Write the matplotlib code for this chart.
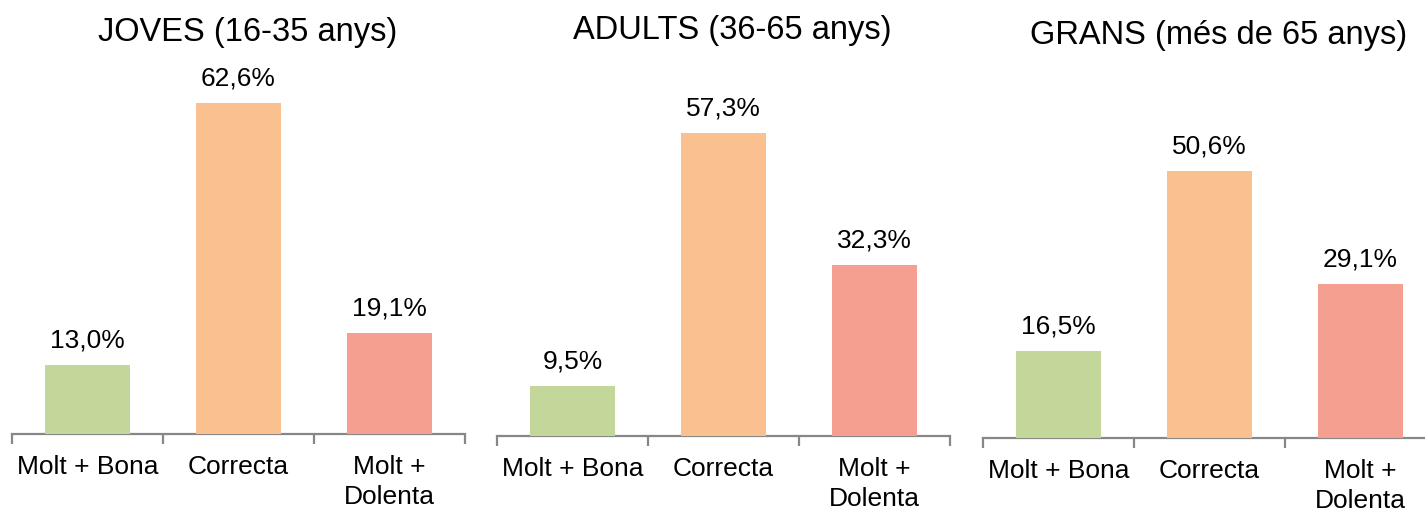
import matplotlib.pyplot as plt

plt.rcParams['font.family'] = ['Liberation Sans', 'DejaVu Sans']

# ── Data ───────────────────────────────────────────────────────────────────────
categories = ['Molt + Bona', 'Correcta', 'Molt +\nDolenta']
titles = ['JOVES (16-35 anys)', 'ADULTS (36-65 anys)', 'GRANS (més de 65 anys)']
joves = [13.0, 62.6, 19.1]
adults = [9.5, 57.3, 32.3]
grans = [16.5, 50.6, 29.1]
bar_colors = ['#C4D79B', '#FAC090', '#F59F91']

W, H = 1425, 509
fig = plt.figure(figsize=(W / 100, H / 100), dpi=100)

# (left px, baseline px) for each panel, as in the original slide
panels = [(12, 434), (497, 436), (983, 438)]
title_y = [32, 30, 35]
panel_w = 453
ymax = 70
px_per_unit = 5.28

for (left, base), ty, title, vals in zip(panels, title_y, titles, [joves, adults, grans]):
    h = ymax * px_per_unit
    ax = fig.add_axes([left / W, 1 - base / H, panel_w / W, h / H])
    ax.bar(range(3), vals, width=0.563, color=bar_colors, zorder=1)
    for i, v in enumerate(vals):
        ax.annotate(f'{v:.1f}%'.replace('.', ','), (i, v), xytext=(0, 9),
                    textcoords='offset points', ha='center', va='bottom', fontsize=19)
    ax.set_xlim(-0.5, 2.5)
    ax.set_ylim(0, ymax)
    for s in ['top', 'right', 'left']:
        ax.spines[s].set_visible(False)
    ax.spines['bottom'].set_color('#878787')
    ax.spines['bottom'].set_linewidth(1.6)
    ax.spines['bottom'].set_zorder(0)
    ax.set_yticks([])
    # boundary ticks (major) and centered labels (minor)
    ax.set_xticks([-0.5, 0.5, 1.5, 2.5])
    ax.set_xticklabels([])
    ax.tick_params(axis='x', which='major', length=7, width=1.6, color='#878787', direction='out')
    ax.set_xticks([0, 1, 2], minor=True)
    ax.set_xticklabels(categories, minor=True, fontsize=19, linespacing=1.35, va='top')
    ax.tick_params(axis='x', which='minor', length=0, pad=15)
    ax.text(0.52, (H - ty - (H - base)) / h, title, transform=ax.transAxes,
            ha='center', va='center', fontsize=23.5)

fig.savefig('out.png', dpi=100)
